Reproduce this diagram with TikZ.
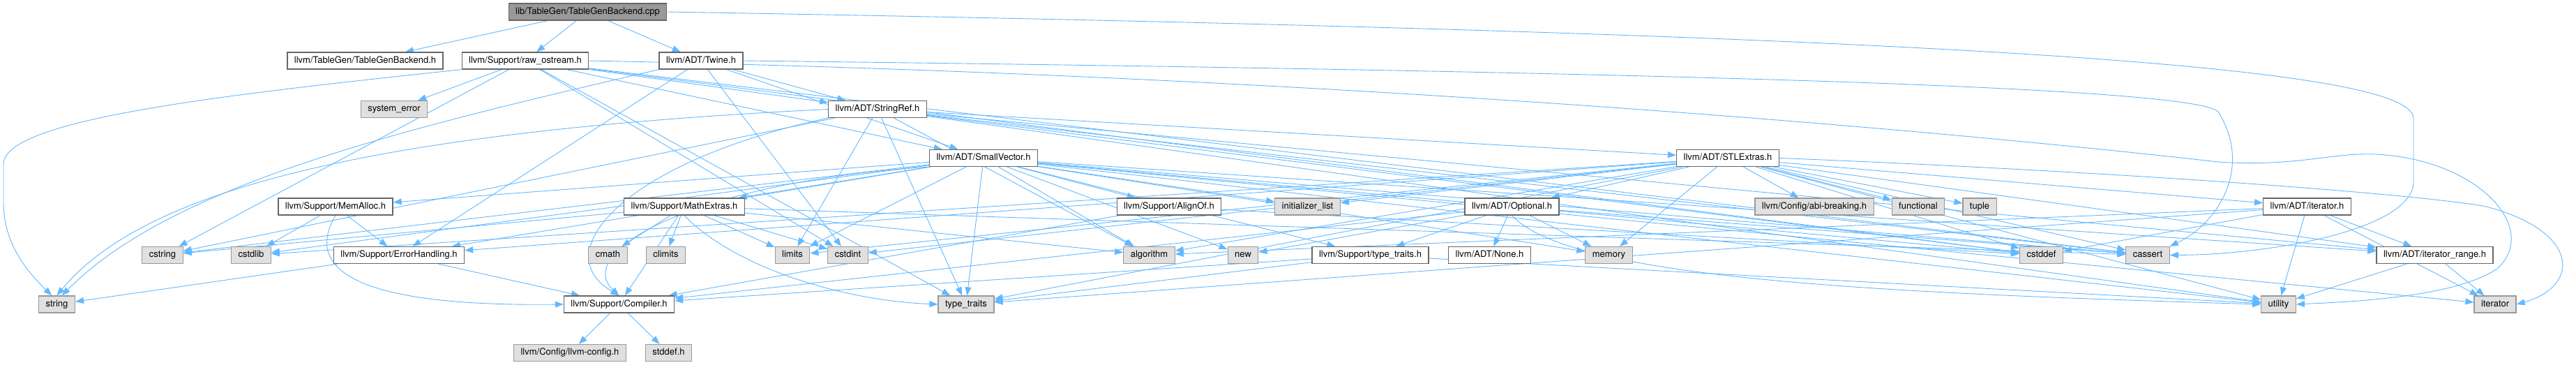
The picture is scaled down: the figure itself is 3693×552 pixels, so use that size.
\documentclass[tikz,border=0pt]{standalone}
\usepackage{fontspec}
\setmainfont{TeX Gyre Heros}
\usetikzlibrary{arrows.meta,backgrounds}
\definecolor{Link}{HTML}{63B8FF}
\definecolor{Frame}{HTML}{666666}
\definecolor{SysFrame}{HTML}{999999}
\definecolor{SysFill}{HTML}{E0E0E0}
\definecolor{RootFill}{HTML}{999999}
\tikzset{
 hdr/.style={draw=Frame,fill=white,line width=1.2pt,font=\fontsize{13}{15}\selectfont,
   inner xsep=10pt,inner ysep=0pt,minimum height=24pt,text height=9.6pt,text depth=2.8pt},
 sys/.style={hdr,draw=SysFrame,fill=SysFill},
 root/.style={hdr,fill=RootFill},
 dep/.style={-{Triangle[length=12pt,width=9pt]},line width=0.9pt,draw=Link}
}
\begin{document}
\begin{tikzpicture}[x=1pt,y=-1pt]
\useasboundingbox (0,0) rectangle (3693,552);
\node[root] (cpp) at (842.5,17) {lib/TableGen/TableGenBackend.cpp};
\node[hdr] (tgb) at (523.5,87) {llvm/TableGen/TableGenBackend.h};
\node[hdr] (rawos) at (753,87) {llvm/Support/raw\_ostream.h};
\node[hdr] (twine) at (1005,87) {llvm/ADT/Twine.h};
\node[sys] (sysErr) at (565,156.5) {system\_error};
\node[hdr] (strref) at (1258,156.5) {llvm/ADT/StringRef.h};
\node[hdr] (smallvec) at (1410,226.5) {llvm/ADT/SmallVector.h};
\node[hdr] (stlextras) at (2477,226.5) {llvm/ADT/STLExtras.h};
\node[hdr] (memalloc) at (481,296) {llvm/Support/MemAlloc.h};
\node[hdr] (mathext) at (981,296) {llvm/Support/MathExtras.h};
\node[hdr] (alignof) at (1676,296) {llvm/Support/AlignOf.h};
\node[sys] (initlist) at (1874.5,296) {initializer\_list};
\node[hdr] (optional) at (2167.5,296) {llvm/ADT/Optional.h};
\node[sys] (abibreak) at (2601,296) {llvm/Config/abi-breaking.h};
\node[sys] (functional) at (2750,296) {functional};
\node[sys] (tuple) at (2838,296) {tuple};
\node[hdr] (iterh) at (3307.5,296) {llvm/ADT/iterator.h};
\node[sys] (cstring) at (233,365.5) {cstring};
\node[sys] (cstdlib) at (360,365.5) {cstdlib};
\node[hdr] (errhand) at (572,365.5) {llvm/Support/ErrorHandling.h};
\node[sys] (cmath) at (871.5,365.5) {cmath};
\node[sys] (climits) at (954.5,365.5) {climits};
\node[sys] (limits) at (1136,365.5) {limits};
\node[sys] (cstdint) at (1215.5,365.5) {cstdint};
\node[sys] (algorithm) at (1647.5,365.5) {algorithm};
\node[sys] (new) at (1782,365.5) {new};
\node[hdr] (sttraits) at (1964.5,365.5) {llvm/Support/type\_traits.h};
\node[hdr] (noneh) at (2135.5,365.5) {llvm/ADT/None.h};
\node[sys] (memory) at (2306.5,365.5) {memory};
\node[sys] (cstddef) at (2926.5,365.5) {cstddef};
\node[sys] (cassert) at (3079,365.5) {cassert};
\node[hdr] (iterrange) at (3490.5,365.5) {llvm/ADT/iterator\_range.h};
\node[sys] (string) at (81.5,436) {string};
\node[hdr] (compiler) at (887.5,436) {llvm/Support/Compiler.h};
\node[sys] (typetraits) at (1385,436) {type\_traits};
\node[sys] (utility) at (3266.5,436) {utility};
\node[sys] (iterator) at (3577,436) {iterator};
\node[sys] (llvmconfig) at (817,505.5) {llvm/Config/llvm-config.h};
\node[sys] (stddef) at (958.5,505.5) {stddef.h};
\begin{pgfonlayer}{background}
\draw[dep] (cpp)--(tgb);\draw[dep] (cpp)--(rawos);\draw[dep] (cpp)--(twine);
\draw[dep] (cpp.east) .. controls (2900,50) and (3460,100) .. (3460,170) -- (3460,260) .. controls (3460,330) and (3250,365) .. (cassert.east);
\draw[dep] (rawos)--(smallvec);\draw[dep] (rawos)--(strref);\draw[dep] (rawos)--(cassert);
\draw[dep] (rawos)--(cstddef);\draw[dep] (rawos)--(cstdint);\draw[dep] (rawos)--(cstring);
\draw[dep] (rawos)--(sysErr);\draw[dep] (rawos)--(typetraits);
\draw[dep] (rawos.south west) .. controls (330,135) and (5,170) .. (5,235) -- (5,290) .. controls (5,350) and (40,390) .. (string.120);
\draw[dep] (rawos.east) .. controls (2000,110) and (2900,200) .. (3180,232) .. controls (3300,240) and (3350,215) .. (3420,222) .. controls (3560,235) and (3640,330) .. (3580,385) .. controls (3520,425) and (3380,432) .. (utility.east);
\draw[dep] (twine)--(smallvec);\draw[dep] (twine)--(strref);\draw[dep] (twine)--(errhand);
\draw[dep] (twine)--(cstdint);
\draw[dep] (twine.south west) .. controls (600,180) and (250,260) .. (string.60);
\draw[dep] (twine.east) .. controls (2600,105) and (3150,130) .. (3180,160) .. controls (3230,240) and (3180,320) .. (cassert.north east);
\draw[dep] (strref)--(stlextras);\draw[dep] (strref)--(iterrange);
\draw[dep] (strref.south west) .. controls (900,230) and (780,360) .. (compiler.north);
\draw[dep] (strref)--(algorithm);\draw[dep] (strref)--(cassert);\draw[dep] (strref)--(cstddef);
\draw[dep] (strref)--(cstring);\draw[dep] (strref)--(limits);
\draw[dep] (strref.west) .. controls (500,190) and (200,280) .. (string.north);
\draw[dep] (strref)--(typetraits);\draw[dep] (strref)--(utility);
\draw[dep] (smallvec)--(iterrange);\draw[dep] (smallvec)--(alignof);
\draw[dep] (smallvec.south west) .. controls (1000,260) and (820,360) .. (compiler.north);
\draw[dep] (smallvec)--(errhand);\draw[dep] (smallvec)--(mathext);\draw[dep] (smallvec)--(memalloc);
\draw[dep] (smallvec)--(sttraits);\draw[dep] (smallvec)--(algorithm);\draw[dep] (smallvec)--(cassert);
\draw[dep] (smallvec)--(cstddef);\draw[dep] (smallvec)--(cstdlib);\draw[dep] (smallvec)--(cstring);
\draw[dep] (smallvec)--(initlist);\draw[dep] (smallvec)--(iterator);\draw[dep] (smallvec)--(limits);
\draw[dep] (smallvec)--(memory);\draw[dep] (smallvec)--(new);\draw[dep] (smallvec)--(typetraits);
\draw[dep] (smallvec)--(utility);
\draw[dep] (stlextras)--(optional);\draw[dep] (stlextras)--(iterh);\draw[dep] (stlextras)--(iterrange);
\draw[dep] (stlextras)--(abibreak);\draw[dep] (stlextras)--(errhand);\draw[dep] (stlextras)--(algorithm);
\draw[dep] (stlextras)--(cassert);\draw[dep] (stlextras)--(cstddef);\draw[dep] (stlextras)--(cstdint);
\draw[dep] (stlextras)--(cstdlib);\draw[dep] (stlextras)--(functional);\draw[dep] (stlextras)--(initlist);
\draw[dep] (stlextras)--(limits);\draw[dep] (stlextras)--(memory);\draw[dep] (stlextras)--(tuple);
\draw[dep] (stlextras)--(typetraits);\draw[dep] (stlextras)--(utility);
\draw[dep] (stlextras.east) .. controls (2900,240) and (3400,270) .. (3560,295) .. controls (3700,330) and (3700,410) .. (iterator.east);
\draw[dep] (optional)--(noneh);\draw[dep] (optional)--(compiler);\draw[dep] (optional)--(sttraits);
\draw[dep] (optional)--(cassert);\draw[dep] (optional)--(memory);\draw[dep] (optional)--(new);
\draw[dep] (optional.south) .. controls (2250,400) and (2700,420) .. (utility.west);
\draw[dep] (mathext)--(compiler);\draw[dep] (mathext)--(algorithm);\draw[dep] (mathext)--(cassert);
\draw[dep] (mathext)--(climits);\draw[dep] (mathext)--(cmath);\draw[dep] (mathext)--(cstdint);
\draw[dep] (mathext)--(cstring);\draw[dep] (mathext)--(limits);
\draw[dep] (mathext.south) .. controls (1050,380) and (1200,430) .. (typetraits.west);
\draw[dep] (memalloc)--(errhand);\draw[dep] (memalloc)--(cstdlib);
\draw[dep] (memalloc.south) .. controls (445,370) and (470,440) .. (compiler.west);
\draw[dep] (errhand)--(compiler);\draw[dep] (errhand)--(string);
\draw[dep] (alignof)--(compiler);\draw[dep] (alignof)--(cstddef);
\draw[dep] (sttraits)--(compiler);\draw[dep] (sttraits)--(typetraits);\draw[dep] (sttraits)--(utility);
\draw[dep] (iterh)--(iterrange);\draw[dep] (iterh)--(algorithm);\draw[dep] (iterh)--(cstddef);
\draw[dep] (iterh)--(iterator);\draw[dep] (iterh)--(typetraits);\draw[dep] (iterh)--(utility);
\draw[dep] (iterrange)--(iterator);\draw[dep] (iterrange)--(utility);
\draw[dep] (compiler)--(llvmconfig);\draw[dep] (compiler)--(stddef);
\end{pgfonlayer}
\end{tikzpicture}
\end{document}
